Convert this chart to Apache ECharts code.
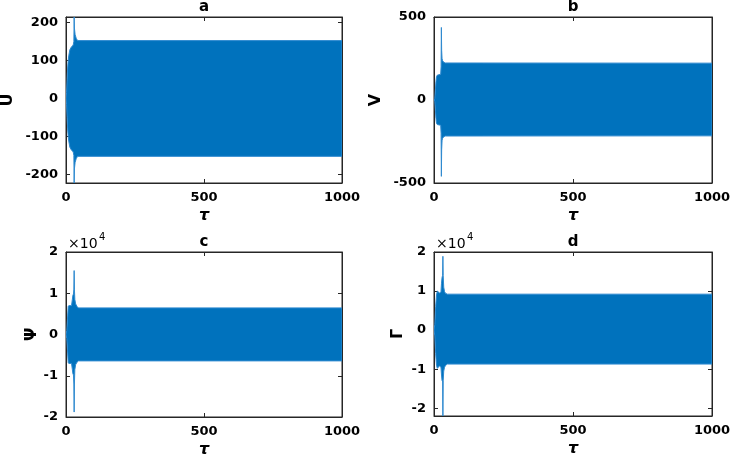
<!DOCTYPE html>
<html>
<head>
<meta charset="utf-8">
<script src="https://cdn.jsdelivr.net/npm/echarts@6/dist/echarts.min.js"></script>
<style>
  html, body { margin: 0; padding: 0; background: #fff; }
  #chart { width: 730px; height: 457px; }
</style>
</head>
<body>
<div id="chart"></div>
<script>
// envelope of each oscillation (upper / lower edge of the band)
const tauA = [0, 2, 4, 6, 8, 10, 14, 20, 26, 28.5, 29.5, 30.5, 33, 37, 42, 1000];
const upA  = [0, 15, 50, 80, 100, 112, 128, 136, 140, 150, 214, 185, 168, 158, 152, 152];
const loA  = [0, -15, -50, -80, -100, -112, -128, -136, -140, -150, -222, -185, -168, -158, -152, -152];

const tauB = [0, 3, 5, 7, 9, 12, 18, 24, 25.5, 26.5, 27.5, 29, 31, 35, 40, 1000];
const upB  = [0, 10, 60, 110, 140, 150, 152, 155, 200, 437, 300, 250, 236, 228, 223, 222];
const loB  = [0, -10, -60, -110, -140, -148, -150, -152, -200, -460, -300, -245, -230, -222, -217, -216];

const tauC = [0, 3, 6, 8, 10, 20, 23, 25, 27, 28.5, 29.5, 30.5, 32, 35, 40, 45, 1000];
const upC  = [0, 1000, 4500, 6800, 7000, 7000, 8500, 9500, 9800, 11000, 15500, 11000, 8500, 7400, 6800, 6450, 6450];
const loC  = [0, -1000, -4500, -6800, -7000, -7000, -8500, -9500, -9800, -12000, -18800, -12000, -8500, -7300, -6700, -6400, -6400];

const tauD = [0, 3, 6, 9, 12, 15, 20, 25, 27, 29, 31, 32, 33, 35, 38, 42, 48, 1000];
const upD  = [0, 1500, 6000, 9000, 10000, 9800, 9500, 9700, 12000, 13500, 14000, 18900, 14000, 11000, 9800, 9400, 9200, 9200];
const loD  = [0, -1500, -6000, -9000, -9800, -9500, -9200, -9500, -11500, -13000, -13000, -22000, -13000, -10500, -9500, -9000, -8700, -8700];

const titles = ['a', 'b', 'c', 'd'];
const yNames = ['U', 'V', '\u03A8', '\u0393'];
const xTicks = [0, 500, 1000];
const yTicksA = [-200, -100, 0, 100, 200];
const yTicksB = [-500, 0, 500];
const yTicksC = [-20000, -10000, 0, 10000, 20000];
const yTicksD = [-20000, -10000, 0, 10000, 20000];

const panels = [
  { tau: tauA, up: upA, lo: loA, ticks: yTicksA, min: -222, max: 214, scale: 1,
    grid: { left: 66, top: 17, width: 276, height: 166 }, nameGap: 50 },
  { tau: tauB, up: upB, lo: loB, ticks: yTicksB, min: -500, max: 500, scale: 1, interval: 500,
    grid: { left: 434, top: 17, width: 278, height: 166 }, nameGap: 50 },
  { tau: tauC, up: upC, lo: loC, ticks: yTicksC, min: -20000, max: 20000, scale: 1e4, interval: 10000,
    grid: { left: 66, top: 252, width: 276, height: 165 }, nameGap: 25 },
  { tau: tauD, up: upD, lo: loD, ticks: yTicksD, min: -22000, max: 20000, scale: 1e4,
    grid: { left: 434, top: 252, width: 278, height: 164 }, nameGap: 28 },
];

const ink = '#262626';
const blue = '#0072BD';
const font = 'DejaVu Sans';

const grids = [], xAxes = [], yAxes = [], series = [], graphics = [];

panels.forEach((p, i) => {
  grids.push({ ...p.grid, outerBoundsMode: 'none', containLabel: false,
    show: true, borderColor: ink, borderWidth: 1, backgroundColor: '#fff' });

  const xBase = {
    type: 'value', gridIndex: i, min: 0, max: 1000, interval: 500,
    axisLine: { show: true, onZero: false, lineStyle: { color: ink, width: 1 } },
    axisTick: { show: true, inside: true, length: 4, lineStyle: { color: ink } },
    splitLine: { show: false },
  };
  xAxes.push({
    ...xBase, position: 'bottom',
    name: '\u03C4', nameLocation: 'middle', nameGap: 25,
    nameTextStyle: { fontFamily: font, fontStyle: 'italic', fontWeight: 'bold', fontSize: 16, color: '#000' },
    axisLabel: {
      margin: 8, fontFamily: font, fontWeight: 'bold', fontSize: 13, color: '#000',
      formatter: v => (xTicks.includes(v) ? String(v) : ''),
    },
  });
  xAxes.push({ ...xBase, position: 'top', axisLabel: { show: false } });

  const yBase = {
    type: 'value', gridIndex: i, min: p.min, max: p.max, splitNumber: 4,
    axisLine: { show: true, onZero: false, lineStyle: { color: ink, width: 1 } },
    axisTick: { show: true, inside: true, length: 4, lineStyle: { color: ink } },
    splitLine: { show: false },
  };
  if (p.interval) yBase.interval = p.interval;
  yAxes.push({
    ...yBase, position: 'left',
    name: yNames[i], nameLocation: 'middle', nameGap: p.nameGap, nameRotate: 90,
    nameTextStyle: { fontFamily: font, fontWeight: 'bold', fontSize: 16, color: '#000' },
    axisLabel: {
      margin: 8, fontFamily: font, fontWeight: 'bold', fontSize: 13, color: '#000',
      formatter: v => (p.ticks.includes(v) ? String(v / p.scale) : ''),
    },
  });
  yAxes.push({ ...yBase, position: 'right', axisLabel: { show: false } });

  // band polygon: upper edge left to right, lower edge back right to left
  const pts = p.tau.map((t, k) => [t, p.up[k]]);
  for (let k = p.tau.length - 1; k >= 0; k--) pts.push([p.tau[k], p.lo[k]]);

  series.push({
    type: 'custom',
    xAxisIndex: 2 * i,
    yAxisIndex: 2 * i,
    clip: true,
    silent: true,
    data: pts,
    renderItem: (params, api) => {
      if (params.dataIndex !== 0) return null;
      const points = pts.map(d => api.coord(d));
      return {
        type: 'polygon',
        shape: { points },
        style: { fill: blue, stroke: '#2f8ad0', lineWidth: 1 },
      };
    },
  });

  const cx = p.grid.left + p.grid.width / 2;
  graphics.push({
    type: 'text', x: cx, y: p.grid.top - 10,
    style: { text: titles[i], font: `bold 15px "${font}"`, fill: '#000', textAlign: 'center', textVerticalAlign: 'middle' },
  });
  if (p.scale !== 1) {
    graphics.push({
      type: 'text', x: p.grid.left + 2, y: p.grid.top - 8,
      style: { text: '\u00D710', font: `14px "${font}"`, fill: '#000', textAlign: 'left', textVerticalAlign: 'middle' },
    });
    graphics.push({
      type: 'text', x: p.grid.left + 33, y: p.grid.top - 15,
      style: { text: '4', font: `10px "${font}"`, fill: '#000', textAlign: 'left', textVerticalAlign: 'middle' },
    });
  }
});

const chart = echarts.init(document.getElementById('chart'));
chart.setOption({
  animation: false,
  backgroundColor: '#fff',
  grid: grids,
  xAxis: xAxes,
  yAxis: yAxes,
  series: series,
  graphic: graphics,
});
</script>
</body>
</html>
